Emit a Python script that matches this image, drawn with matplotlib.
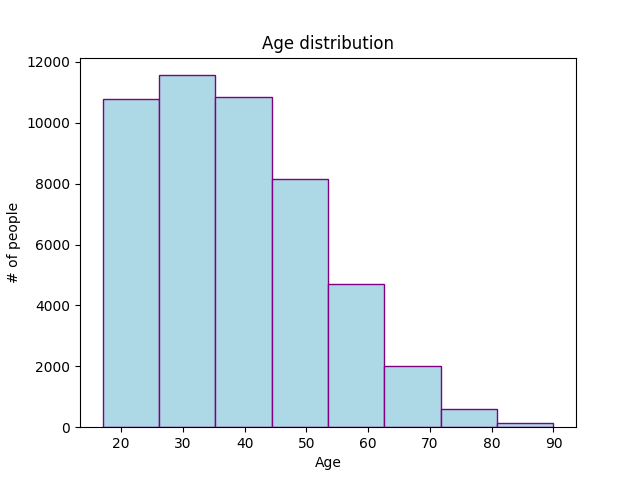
import matplotlib
matplotlib.use("Agg")
import matplotlib.pyplot as plt

# --------- DATA ---------
bin_edges = [17, 26.125, 35.25, 44.375, 53.5, 62.625, 71.75, 80.875, 90]
counts = [10780, 11560, 10840, 8145, 4690, 1995, 585, 140]

# --------- PLOT ---------
fig = plt.figure(figsize=(6.4, 4.8), dpi=100)
plt.hist(bin_edges[:-1], bins=bin_edges, weights=counts,
         color="lightblue", edgecolor="purple")
plt.title("Age distribution")
plt.xlabel("Age")
plt.ylabel("# of people")
plt.savefig("out.png")
